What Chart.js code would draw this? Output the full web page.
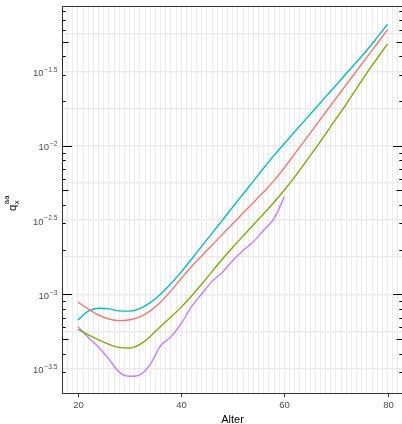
<!DOCTYPE html>
<html>
<head>
<meta charset="utf-8">
<script src="https://cdn.jsdelivr.net/npm/chart.js@4"></script>
<style>
  html, body { margin: 0; padding: 0; background: #fff; }
  #wrap { width: 402px; height: 424px; }
</style>
</head>
<body>
<div id="wrap"><canvas id="chart" width="402" height="424"></canvas></div>
<script>
// Alter (x) and log10(q_x^aa) per curve
const ages = [20, 22, 24, 26, 28, 30, 32, 34, 36, 38, 40, 42, 44, 46, 48, 50,
              52, 54, 56, 58, 60, 62, 64, 66, 68, 70, 72, 74, 76, 78, 80];

const logRed = [-3.052, -3.098, -3.138, -3.165, -3.176, -3.170, -3.150, -3.110, -3.052, -2.976, -2.893,
                -2.812, -2.740, -2.667, -2.596, -2.525, -2.453, -2.382, -2.310, -2.235, -2.148,
                -2.055, -1.962, -1.868, -1.775, -1.682, -1.590, -1.497, -1.405, -1.313, -1.220];
const logOlive = [-3.234, -3.272, -3.305, -3.335, -3.356, -3.360, -3.335, -3.282, -3.215, -3.152, -3.085,
                  -3.010, -2.930, -2.845, -2.762, -2.683, -2.607, -2.532, -2.457, -2.380, -2.298,
                  -2.210, -2.115, -2.020, -1.920, -1.820, -1.720, -1.615, -1.510, -1.412, -1.316];
const logCyan = [-3.171, -3.112, -3.093, -3.097, -3.110, -3.112, -3.095, -3.055, -2.998, -2.928, -2.850,
                 -2.763, -2.675, -2.588, -2.500, -2.412, -2.325, -2.238, -2.150, -2.065, -1.985,
                 -1.906, -1.828, -1.750, -1.672, -1.594, -1.515, -1.437, -1.358, -1.272, -1.184];
// purple only runs to 60
const logPurple = [-3.216, -3.290, -3.355, -3.435, -3.522, -3.550, -3.540, -3.470, -3.345, -3.285, -3.195,
                   -3.082, -2.995, -2.912, -2.850, -2.772, -2.705, -2.645, -2.568, -2.490, -2.343];

const xTicks = [20, 40, 60, 80];
const yTickExps = [-1.5, -2, -2.5, -3, -3.5];

const toPoints = (logs) => logs.map((v, i) => ({ x: ages[i], y: Math.pow(10, v) }));

const series = [
  { label: 'rot', logs: logRed, color: '#F8766D' },
  { label: 'gruen', logs: logOlive, color: '#7CAE00' },
  { label: 'tuerkis', logs: logCyan, color: '#00BFC4' },
  { label: 'lila', logs: logPurple, color: '#C77CFF' },
];

const FONT = '"Liberation Sans", Arial, sans-serif';
const RIGHT_EDGE = 403; // panel border sits just past the canvas

// ggplot-ish decorations: log ticks, border, labels with superscripts
const decoPlugin = {
  id: 'deco',
  afterDraw(chart) {
    const { ctx, chartArea: a, scales: { x, y } } = chart;
    ctx.save();

    // annotation_logticks on both sides
    ctx.strokeStyle = '#000';
    ctx.lineWidth = 1;
    for (let d = -4; d <= -1; d++) {
      for (let k = 1; k <= 9; k++) {
        const py = Math.round(y.getPixelForValue(k * Math.pow(10, d))) + 0.5;
        if (py < a.top || py > a.bottom) continue;
        const len = k === 1 ? 10 : (k === 5 ? 6.5 : 3.7);
        ctx.beginPath();
        ctx.moveTo(a.left, py); ctx.lineTo(a.left + len, py);
        ctx.moveTo(RIGHT_EDGE, py); ctx.lineTo(RIGHT_EDGE - len, py);
        ctx.stroke();
      }
    }

    // panel border
    ctx.strokeStyle = '#333';
    ctx.lineWidth = 1;
    ctx.strokeRect(a.left + 0.5, a.top + 0.5, RIGHT_EDGE - a.left - 1, a.bottom - a.top - 1);

    // x ticks + labels
    ctx.fillStyle = '#4D4D4D';
    ctx.font = '9.5px ' + FONT;
    ctx.textAlign = 'center';
    ctx.textBaseline = 'alphabetic';
    xTicks.forEach(v => {
      const px = Math.round(x.getPixelForValue(v)) + 0.5;
      ctx.beginPath();
      ctx.moveTo(px, a.bottom); ctx.lineTo(px, a.bottom + 3);
      ctx.stroke();
      ctx.fillText(String(v), px, a.bottom + 14);
    });

    // y labels 10^e
    ctx.textAlign = 'right';
    yTickExps.forEach(e => {
      const py = y.getPixelForValue(Math.pow(10, e));
      const sup = '\u2212' + String(Math.abs(e));
      ctx.font = '6.7px ' + FONT;
      const w = ctx.measureText(sup).width;
      ctx.fillText(sup, 57.5, py + 0.3);
      ctx.font = '9.5px ' + FONT;
      ctx.fillText('10', 57.5 - w - 0.8, py + 4.5);
    });

    // axis titles
    ctx.fillStyle = '#000';
    ctx.textAlign = 'center';
    ctx.font = '11px ' + FONT;
    ctx.fillText('Alter', (a.left + RIGHT_EDGE) / 2, 423);

    ctx.translate(15.5, 200.5);
    ctx.rotate(-Math.PI / 2);
    ctx.textAlign = 'left';
    ctx.font = '11.5px ' + FONT;
    ctx.fillText('q', -10.5, 0);
    const qw = ctx.measureText('q').width;
    ctx.font = '7.8px ' + FONT;
    ctx.fillText('x', -10.5 + qw + 0.4, 3.8);
    ctx.fillText('aa', -10.5 + qw + 0.4, -6.2);

    ctx.restore();
  }
};

new Chart(document.getElementById('chart'), {
  type: 'line',
  data: {
    datasets: series.map(s => ({
      label: s.label,
      data: toPoints(s.logs),
      borderColor: s.color,
      backgroundColor: s.color,
      borderWidth: 1.4,
      pointRadius: 0,
      fill: false,
      cubicInterpolationMode: 'monotone',
    })),
  },
  options: {
    responsive: false,
    animation: false,
    devicePixelRatio: 1,
    layout: { padding: { top: 6, right: 0, bottom: 0, left: 0 } },
    plugins: {
      legend: { display: false },
      tooltip: { enabled: false },
    },
    scales: {
      x: {
        type: 'linear',
        bounds: 'data',
        min: 16.9,
        max: 82.8,
        afterBuildTicks: (s) => {
          const t = [];
          for (let v = 17; v <= 82; v++) t.push({ value: v });
          s.ticks = t;
        },
        afterFit: (s) => { s.height = 30; },
        ticks: { display: false },
        border: { display: false },
        grid: { color: '#EBEBEB', lineWidth: 1, drawTicks: false },
      },
      y: {
        type: 'logarithmic',
        bounds: 'data',
        min: Math.pow(10, -3.669),
        max: Math.pow(10, -1.061),
        afterBuildTicks: (s) => {
          const t = [];
          for (let e = -3.5; e <= -1.25; e += 0.25) t.push({ value: Math.pow(10, e) });
          s.ticks = t;
        },
        afterFit: (s) => { s.width = 62; },
        ticks: { display: false },
        border: { display: false },
        grid: { color: '#EBEBEB', lineWidth: 1.6, drawTicks: false },
      },
    },
  },
  plugins: [decoPlugin],
});
</script>
</body>
</html>
